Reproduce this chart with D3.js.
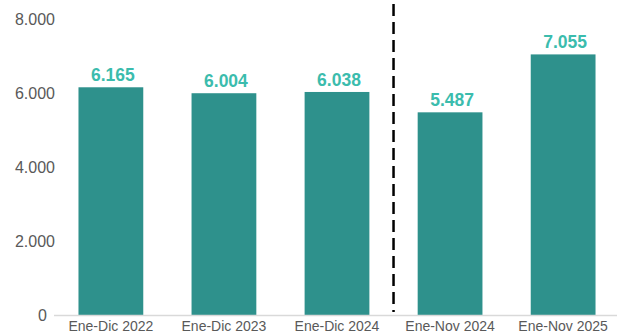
<!DOCTYPE html>
<html><head><meta charset="utf-8">
<script src="https://cdn.jsdelivr.net/npm/d3@7"></script>
<style>body{margin:0;background:#fff}svg{display:block}</style>
</head><body>
<svg id="c" width="617" height="336"></svg>
<script>
const categories = ["Ene-Dic 2022","Ene-Dic 2023","Ene-Dic 2024","Ene-Nov 2024","Ene-Nov 2025"];
const values = [6165, 6004, 6038, 5487, 7055];
const valueLabels = ["6.165","6.004","6.038","5.487","7.055"];
const yTicks = [0, 2000, 4000, 6000, 8000];
const yTickLabels = ["0","2.000","4.000","6.000","8.000"];

const svg = d3.select("#c");
const x = d3.scaleBand().domain(categories).range([57, 617]).paddingInner(0.427).paddingOuter(0.19);
const y = d3.scaleLinear().domain([0, 8000]).range([315, 19.5]);

// y tick labels
svg.append("g").selectAll("text").data(yTicks).join("text")
  .attr("x", 55).attr("y", d => y(d)).attr("dy", "0.35em")
  .attr("dx", d => d === 0 ? -8 : 0)
  .attr("text-anchor", "end")
  .attr("font-family", "Liberation Sans, Arial, sans-serif").attr("font-size", 16)
  .attr("fill", "#595959")
  .text((d, i) => yTickLabels[i]);

// bars
svg.append("g").selectAll("rect").data(values).join("rect")
  .attr("x", (d, i) => x(categories[i])).attr("width", x.bandwidth())
  .attr("y", d => y(d)).attr("height", d => y(0) - y(d))
  .attr("fill", "#2e918c");

// axis line
svg.append("line").attr("x1", 54).attr("x2", 617).attr("y1", 315.5).attr("y2", 315.5)
  .attr("stroke", "#d9d9d9").attr("stroke-width", 1.5);

// x labels
svg.append("g").selectAll("text").data(categories).join("text")
  .attr("x", d => x(d) + x.bandwidth() / 2).attr("y", 331)
  .attr("text-anchor", "middle")
  .attr("font-family", "Liberation Sans, Arial, sans-serif").attr("font-size", 14)
  .attr("fill", "#595959")
  .text(d => d);

// value labels
svg.append("g").selectAll("text").data(values).join("text")
  .attr("x", (d, i) => x(categories[i]) + x.bandwidth() / 2 + 2).attr("y", d => y(d) - 6)
  .attr("text-anchor", "middle")
  .attr("font-family", "Liberation Sans, Arial, sans-serif").attr("font-size", 17.5).attr("font-weight", "bold")
  .attr("fill", "#3bbcad")
  .text((d, i) => valueLabels[i]);

// dashed separator between 3rd and 4th category
const sepX = (x(categories[2]) + x.bandwidth() + x(categories[3])) / 2;
svg.append("line").attr("x1", sepX).attr("x2", sepX).attr("y1", 4).attr("y2", 312)
  .attr("stroke", "#000").attr("stroke-width", 2.5).attr("stroke-dasharray", "12,6");
</script>
</body></html>
